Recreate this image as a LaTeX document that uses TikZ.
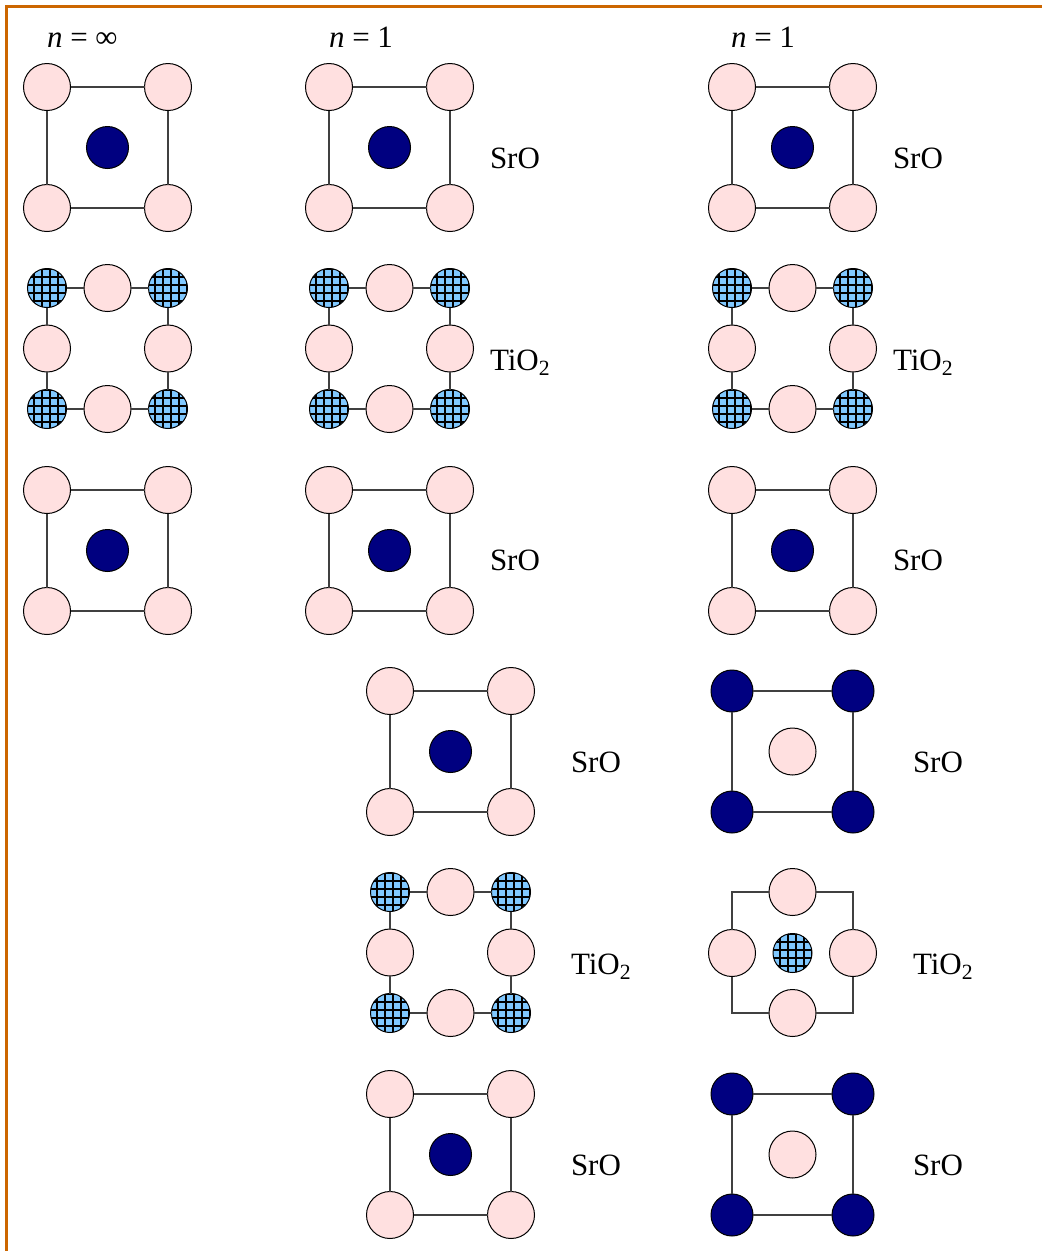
\documentclass[tikz,border=0pt]{standalone}
\usepackage{fontspec}
\setmainfont{Liberation Serif}
\definecolor{frameor}{HTML}{CC6600}
\definecolor{oxpink}{HTML}{FFE0E0}
\definecolor{srblue}{HTML}{000080}
\definecolor{tiblue}{HTML}{80C8FF}
\tikzset{
  oxy/.style={circle,draw=black,line width=1pt,fill=oxpink,minimum size=47pt,inner sep=0pt,outer sep=0pt},
  sr/.style={circle,draw=black,line width=1pt,fill=srblue,minimum size=42pt,inner sep=0pt,outer sep=0pt},
  ti/.style={circle,draw=black,line width=1pt,fill=tiblue,minimum size=39pt,inner sep=0pt,outer sep=0pt,
    path picture={
      \foreach \k in {-3,...,3}{
        \draw[black,line width=2pt] ([xshift=\k*8pt+3pt,yshift=-25pt]path picture bounding box.center) -- ++(0,50pt);
        \draw[black,line width=2pt] ([yshift=\k*8pt+3.5pt,xshift=-25pt]path picture bounding box.center) -- ++(50pt,0);
      }
    }},
  bond/.style={draw=black!75,line width=1.2pt},
  lab/.style={anchor=base west,inner sep=0pt,outer sep=0pt,font=\fontsize{31}{31}\selectfont},
  frameln/.style={draw=frameor,line width=2.4pt}
}
% square cell: corners of style #4, centre of style #5
\newcommand{\sqcell}[5]{
  \node[#4] (#1a) at (#2,#3) {};
  \node[#4] (#1b) at (#2+121,#3) {};
  \node[#4] (#1c) at (#2,#3+121) {};
  \node[#4] (#1d) at (#2+121,#3+121) {};
  \node[#5] (#1e) at (#2+60.5,#3+60.5) {};
  \draw[bond] (#1a) -- (#1b);
  \draw[bond] (#1b) -- (#1d);
  \draw[bond] (#1d) -- (#1c);
  \draw[bond] (#1c) -- (#1a);
}
% TiO2 cell with Ti on the corners
\newcommand{\ticell}[3]{
  \node[ti] (#1a) at (#2,#3) {};
  \node[ti] (#1b) at (#2+121,#3) {};
  \node[ti] (#1c) at (#2,#3+121) {};
  \node[ti] (#1d) at (#2+121,#3+121) {};
  \node[oxy] (#1t) at (#2+60.5,#3) {};
  \node[oxy] (#1l) at (#2,#3+60.5) {};
  \node[oxy] (#1r) at (#2+121,#3+60.5) {};
  \node[oxy] (#1u) at (#2+60.5,#3+121) {};
  \draw[bond] (#1a) -- (#1t);
  \draw[bond] (#1t) -- (#1b);
  \draw[bond] (#1b) -- (#1r);
  \draw[bond] (#1r) -- (#1d);
  \draw[bond] (#1d) -- (#1u);
  \draw[bond] (#1u) -- (#1c);
  \draw[bond] (#1c) -- (#1l);
  \draw[bond] (#1l) -- (#1a);
}
\begin{document}
\begin{tikzpicture}[x=1pt,y=-1pt]
\useasboundingbox (0,0) rectangle (1042,1251);
\coordinate (fa) at (6.5,1251);
\coordinate (fb) at (6.5,6.5);
\coordinate (fc) at (1042,6.5);
\draw[frameln] (fa) -- (fb) -- (fc);

\node[lab] (h1) at (47,47) {\textit{n} = ∞};
\node[lab] (h2) at (329,47) {\textit{n} = 1};
\node[lab] (h3) at (731,47) {\textit{n} = 1};

\sqcell{A}{47}{87}{oxy}{sr}
\ticell{B}{47}{288}
\sqcell{C}{47}{490}{oxy}{sr}

\sqcell{D}{329}{87}{oxy}{sr}
\ticell{E}{329}{288}
\sqcell{F}{329}{490}{oxy}{sr}

\sqcell{G}{732}{87}{oxy}{sr}
\ticell{H}{732}{288}
\sqcell{I}{732}{490}{oxy}{sr}

\sqcell{J}{390}{691}{oxy}{sr}
\ticell{K}{390}{892}
\sqcell{L}{390}{1094}{oxy}{sr}

\sqcell{M}{732}{691}{sr}{oxy}
\sqcell{O}{732}{1094}{sr}{oxy}

% TiO2 cell with Ti in the centre
\node[oxy] (Nt) at (792.5,892) {};
\node[oxy] (Nl) at (732,953) {};
\node[oxy] (Nr) at (853,953) {};
\node[oxy] (Nu) at (792.5,1013) {};
\node[ti] (Ne) at (792.5,953) {};
\draw[bond] (Nt) -| (Nl);
\draw[bond] (Nt) -| (Nr);
\draw[bond] (Nu) -| (Nl);
\draw[bond] (Nu) -| (Nr);

\node[lab] (l1) at (490,168) {SrO};
\node[lab] (l2) at (490,370) {TiO\textsubscript{2}};
\node[lab] (l3) at (490,570) {SrO};
\node[lab] (l4) at (893,168) {SrO};
\node[lab] (l5) at (893,370) {TiO\textsubscript{2}};
\node[lab] (l6) at (893,570) {SrO};
\node[lab] (l7) at (571,772) {SrO};
\node[lab] (l8) at (571,974) {TiO\textsubscript{2}};
\node[lab] (l9) at (571,1175) {SrO};
\node[lab] (l10) at (913,772) {SrO};
\node[lab] (l11) at (913,974) {TiO\textsubscript{2}};
\node[lab] (l12) at (913,1175) {SrO};
\end{tikzpicture}
\end{document}
